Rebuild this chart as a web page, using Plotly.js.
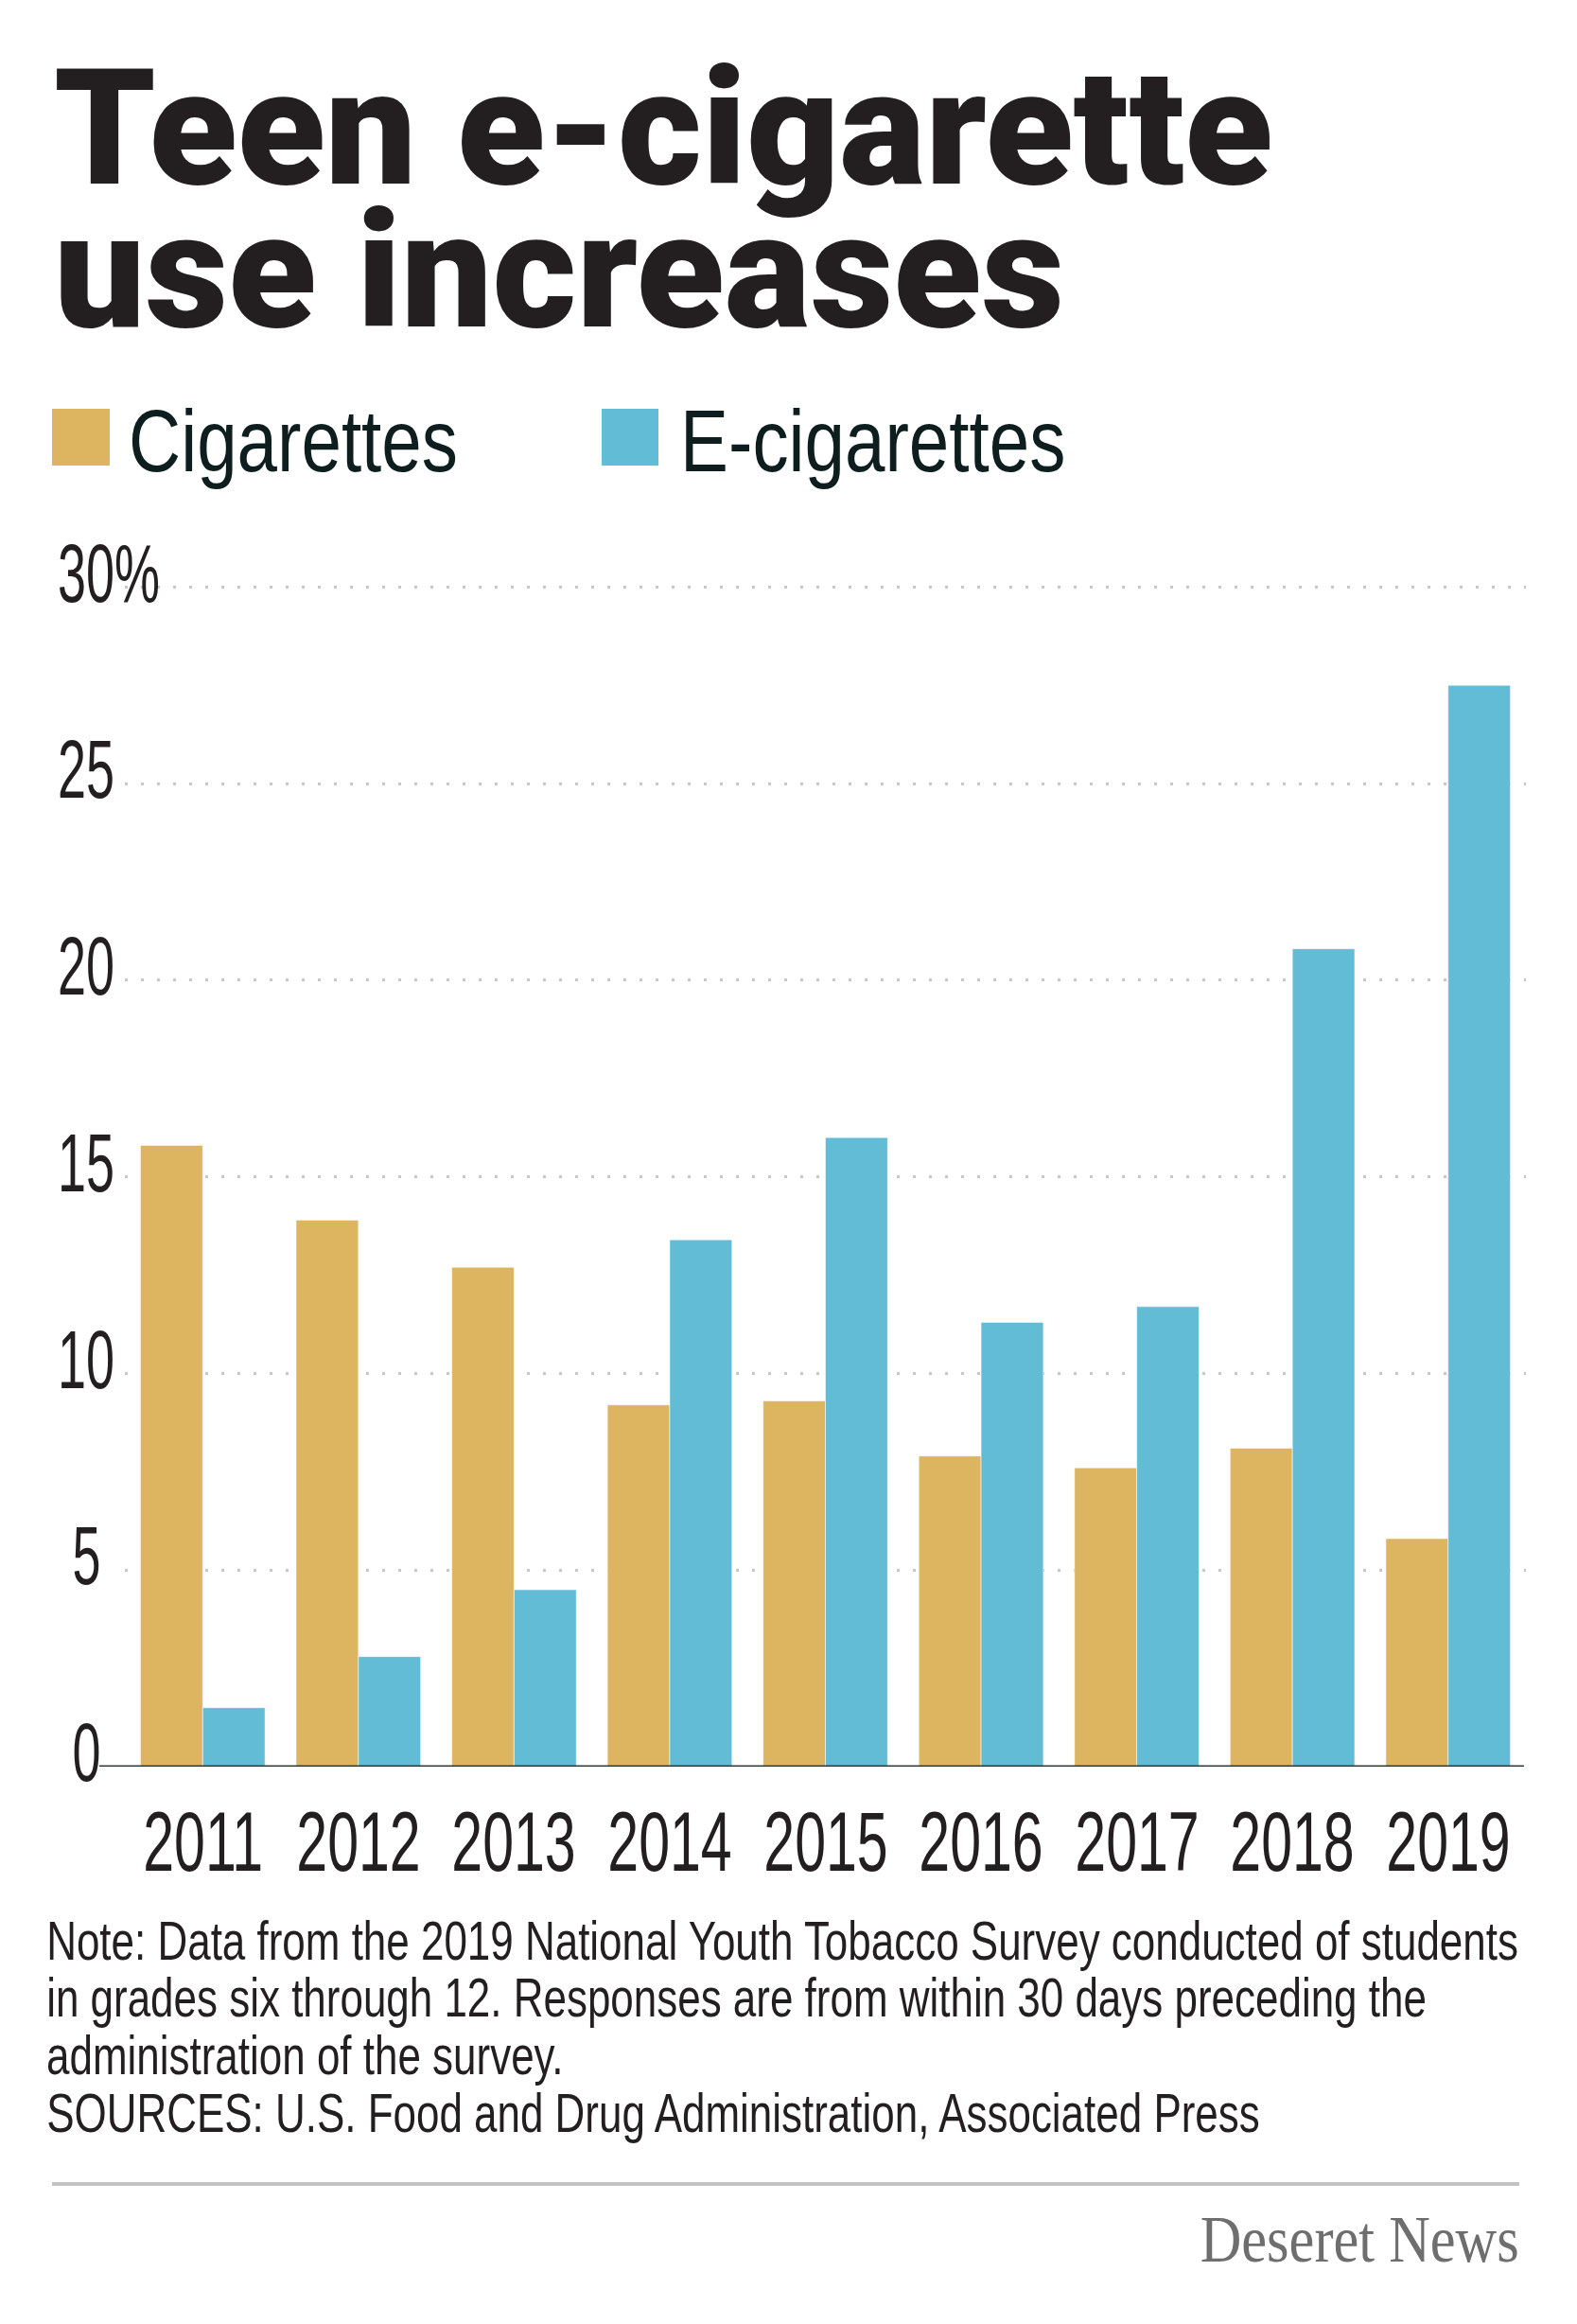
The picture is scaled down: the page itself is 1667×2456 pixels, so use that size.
<!DOCTYPE html>
<html>
<head>
<meta charset="utf-8">
<script src="https://cdn.plot.ly/plotly-3.0.1.min.js"></script>
<style>
  html, body { margin: 0; padding: 0; background: #ffffff; }
  #chart { width: 1667px; height: 2456px; }
</style>
</head>
<body>
<div id="chart"></div>
<script>
// ---------------- data ----------------
const years = ['2011', '2012', '2013', '2014', '2015', '2016', '2017', '2018', '2019'];
const cigarettes = [15.8, 13.9, 12.7, 9.2, 9.3, 7.9, 7.6, 8.1, 5.8];
const eCigarettes = [1.5, 2.8, 4.5, 13.4, 16.0, 11.3, 11.7, 20.8, 27.5];
const seriesNames = ['Cigarettes', 'E-cigarettes'];
const yTickValues = [0, 5, 10, 15, 20, 25, 30];
const yTickLabels = ['0', '5', '10', '15', '20', '25', '30%'];
const titleLines = ['Teen e-cigarette', 'use increases'];
const noteLines = [
  'Note: Data from the 2019 National Youth Tobacco Survey conducted of students',
  'in grades six through 12. Responses are from within 30 days preceding the',
  'administration of the survey.',
  'SOURCES: U.S. Food and Drug Administration, Associated Press'
];
const creditText = 'Deseret News';

// ---------------- style / geometry ----------------
const W = 1667, H = 2456;
const M = { l: 132, r: 54, t: 610, b: 589 };
const PW = W - M.l - M.r, PH = H - M.t - M.b;
const px = x => (x - M.l) / PW;              // pixel x -> paper
const py = y => (H - M.b - y) / PH;          // pixel y -> paper
const GOLD = '#DDB45F', BLUE = '#62BCD6';
const DARK = '#231F20', LEGEND_DARK = '#0E1E1E';
const SANS = '"Liberation Sans", Arial, sans-serif';
const center = (baseline, size) => baseline - 0.345 * size;

const annotations = [];
const fitGroup = [];      // horizontal-compression group of each annotation
const groupTargets = {};  // group -> {ref: annotation index, width: target px width}
function addAnn(a, group, targetWidth) {
  annotations.push(Object.assign({ showarrow: false, borderpad: 0 }, a));
  fitGroup.push(group || null);
  if (group && targetWidth && !groupTargets[group]) {
    groupTargets[group] = { ref: annotations.length - 1, width: targetWidth };
  }
}

// title (one two-line text, leading tightened after drawing)
const TS = 171;
const TITLE_BASE1 = 194, TITLE_LEAD = 151;
const titleIndex = annotations.length;
addAnn({
  text: titleLines.join('<br>'), xref: 'paper', yref: 'paper', x: px(56), y: py(60),
  xanchor: 'left', yanchor: 'top', align: 'left',
  font: { family: 'Roboto, "Liberation Sans", sans-serif', size: TS, weight: 900, color: DARK }
});

// legend labels
const LS = 92;
addAnn({
  text: seriesNames[0], xref: 'paper', yref: 'paper', x: px(135), y: py(center(498, LS)),
  xanchor: 'left', yanchor: 'middle', font: { family: SANS, size: LS, color: LEGEND_DARK }
}, 'legend', 348);
addAnn({
  text: seriesNames[1], xref: 'paper', yref: 'paper', x: px(718), y: py(center(498, LS)),
  xanchor: 'left', yanchor: 'middle', font: { family: SANS, size: LS, color: LEGEND_DARK }
}, 'legend');

// y tick labels
const YS = 88;
yTickValues.forEach((v, i) => {
  const lab = yTickLabels[i];
  const isPct = lab.indexOf('%') >= 0;
  addAnn({
    text: lab, xref: 'paper', yref: 'y', x: isPct ? px(60) : px(91), y: v,
    xanchor: isPct ? 'left' : 'center', yanchor: 'middle',
    yshift: 0.345 * YS - 15,
    font: { family: SANS, size: YS, color: DARK }
  }, 'ytick');
});
groupTargets.ytick = { ref: annotations.findIndex(a => a.text === '25'), width: 60 };

// x labels (years)
const XS = 89;
years.forEach((yr, i) => {
  addAnn({
    text: yr, xref: 'x', yref: 'paper', x: i, y: py(center(1977, XS)),
    xanchor: 'center', yanchor: 'middle',
    font: { family: SANS, size: XS, color: DARK }
  }, 'years', 127);
});

// note lines
const NS = 58;
const noteBase = [2071, 2131, 2192, 2253];
noteLines.forEach((t, i) => {
  addAnn({
    text: t, xref: 'paper', yref: 'paper', x: px(48), y: py(center(noteBase[i], NS)),
    xanchor: 'left', yanchor: 'middle',
    font: { family: SANS, size: NS, color: DARK }
  }, 'note', 1556);
});

// credit
const CS = 70;
addAnn({
  text: creditText, xref: 'paper', yref: 'paper', x: px(1607), y: py(center(2391, CS)),
  xanchor: 'right', yanchor: 'middle',
  font: { family: '"Liberation Serif", "DejaVu Serif", serif', size: CS, color: '#6E6E6E' }
}, 'credit', 337);

const shapes = [
  // legend swatches
  { type: 'rect', xref: 'paper', yref: 'paper', x0: px(55), x1: px(116), y0: py(432), y1: py(492),
    fillcolor: GOLD, line: { width: 0 } },
  { type: 'rect', xref: 'paper', yref: 'paper', x0: px(636), x1: px(696), y0: py(432), y1: py(492),
    fillcolor: BLUE, line: { width: 0 } },
  // baseline
  { type: 'line', xref: 'paper', yref: 'y', x0: px(105), x1: px(1611), y0: 0, y1: 0,
    line: { color: '#2E3B3B', width: 3 }, layer: 'above' },
  // separator
  { type: 'line', xref: 'paper', yref: 'paper', x0: px(55), x1: px(1606), y0: py(2308), y1: py(2308),
    line: { color: '#C2C2C2', width: 4 } }
];

const traces = [
  { type: 'bar', name: seriesNames[0], x: years, y: cigarettes,
    marker: { color: GOLD, line: { color: 'rgba(255,255,255,0.55)', width: 1 } }, hoverinfo: 'skip' },
  { type: 'bar', name: seriesNames[1], x: years, y: eCigarettes,
    marker: { color: BLUE, line: { color: 'rgba(255,255,255,0.55)', width: 1 } }, hoverinfo: 'skip' }
];

const layout = {
  width: W, height: H,
  margin: M,
  paper_bgcolor: '#ffffff', plot_bgcolor: '#ffffff',
  showlegend: false,
  barmode: 'group', bargap: 0.2, bargroupgap: 0,
  xaxis: { type: 'category', range: [-0.5, 8.5], showticklabels: false, showgrid: false,
           zeroline: false, showline: false, ticks: '' },
  yaxis: { range: [0, 30.25], tickvals: yTickValues, showticklabels: false,
           showgrid: true, gridcolor: '#C6C6C6', gridwidth: 3, griddash: '3px,14px',
           zeroline: false, showline: false, ticks: '' },
  annotations: annotations,
  shapes: shapes
};

Plotly.newPlot('chart', traces, layout, { staticPlot: true, displayModeBar: false }).then(() => {
  const texts = {};
  document.querySelectorAll('g.annotation').forEach(g => {
    const i = +g.getAttribute('data-index');
    texts[i] = g.querySelector('text.annotation-text');
  });

  // tighten the title leading and put its first baseline in place
  const tt = texts[titleIndex];
  if (tt) {
    const lines = tt.querySelectorAll('tspan.line');
    lines.forEach((ln, k) => { if (k > 0) ln.setAttribute('dy', (TITLE_LEAD / TS).toFixed(4) + 'em'); });
    const first = lines.length ? lines[0] : tt;
    const r = first.getBoundingClientRect();
    const h = r.height;
    // font box: ascent ~ 0.79 of the line box height for Roboto
    const baseline = r.top + h * (0.928 / 1.172);
    const dy = TITLE_BASE1 - baseline;
    tt.style.transform = 'translateY(' + dy.toFixed(1) + 'px)';
  }

  const factors = {};
  Object.keys(groupTargets).forEach(k => {
    const gt = groupTargets[k];
    const t = texts[gt.ref];
    if (t) {
      const w = t.getBBox().width;
      if (w > 0) factors[k] = gt.width / w;
    }
  });
  Object.keys(texts).forEach(i => {
    const grp = fitGroup[i];
    const f = grp && factors[grp];
    const t = texts[i];
    if (!f || !t) return;
    const anchor = annotations[i].xanchor;
    const ox = anchor === 'left' ? '0%' : (anchor === 'right' ? '100%' : '50%');
    t.style.transformBox = 'fill-box';
    t.style.transformOrigin = ox + ' 50%';
    t.style.transform = 'scaleX(' + f.toFixed(4) + ')';
  });
});
</script>
</body>
</html>
